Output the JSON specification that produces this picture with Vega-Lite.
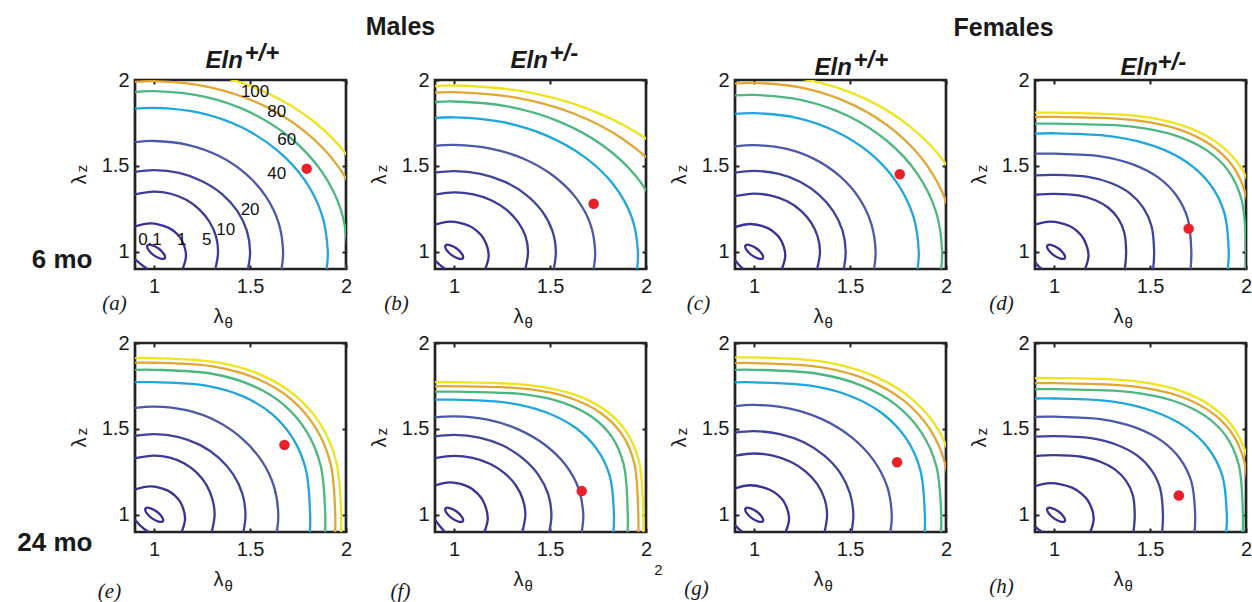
{
"$schema":"https://vega.github.io/schema/vega-lite/v6.json",
"padding":{"left":15,"top":12,"right":0,"bottom":0},
"background":"white",
"config":{
 "font":"Liberation Sans",
 "view":{"stroke":"#222","strokeWidth":2.7},
 "axis":{"grid":false,"domain":false,"labelFlush":false,"labelFont":"Liberation Sans","labelFontSize":20,"labelColor":"#1a1a1a","tickColor":"#222","tickWidth":2,"tickSize":-4,"titleFont":"Liberation Sans","titleFontSize":20,"titleFontWeight":"normal","titleColor":"#1a1a1a"},
 "axisX":{"labelPadding":11},
 "axisY":{"labelPadding":10}
},
"datasets":{
"dot":[{"p":"a","x":1.795,"y":1.484},{"p":"b","x":1.727,"y":1.28},{"p":"c","x":1.759,"y":1.451},{"p":"d","x":1.701,"y":1.135},{"p":"e","x":1.679,"y":1.407},{"p":"f","x":1.665,"y":1.138},{"p":"g","x":1.745,"y":1.306},{"p":"h","x":1.65,"y":1.112}],
"lab":[{"t":"0.1","x":0.978,"y":1.067},{"t":"1","x":1.143,"y":1.067},{"t":"5","x":1.274,"y":1.067},{"t":"10","x":1.373,"y":1.125},{"t":"20","x":1.5,"y":1.241},{"t":"40","x":1.639,"y":1.455},{"t":"60","x":1.691,"y":1.649},{"t":"80","x":1.639,"y":1.814},{"t":"100","x":1.526,"y":1.93}],
"el":[
{"p":"a","x":1.055,"y":0.963},{"p":"a","x":1.033,"y":0.961},{"p":"a","x":0.997,"y":0.981},{"p":"a","x":0.969,"y":1.013},{"p":"a","x":0.965,"y":1.037},{"p":"a","x":0.987,"y":1.039},{"p":"a","x":1.023,"y":1.019},{"p":"a","x":1.051,"y":0.987},
{"p":"b","x":1.045,"y":0.963},{"p":"b","x":1.023,"y":0.961},{"p":"b","x":0.987,"y":0.981},{"p":"b","x":0.959,"y":1.013},{"p":"b","x":0.955,"y":1.037},{"p":"b","x":0.977,"y":1.039},{"p":"b","x":1.013,"y":1.019},{"p":"b","x":1.041,"y":0.987},
{"p":"c","x":1.045,"y":0.963},{"p":"c","x":1.023,"y":0.961},{"p":"c","x":0.987,"y":0.981},{"p":"c","x":0.959,"y":1.013},{"p":"c","x":0.955,"y":1.037},{"p":"c","x":0.977,"y":1.039},{"p":"c","x":1.013,"y":1.019},{"p":"c","x":1.041,"y":0.987},
{"p":"d","x":1.055,"y":0.963},{"p":"d","x":1.033,"y":0.961},{"p":"d","x":0.997,"y":0.981},{"p":"d","x":0.969,"y":1.013},{"p":"d","x":0.965,"y":1.037},{"p":"d","x":0.987,"y":1.039},{"p":"d","x":1.023,"y":1.019},{"p":"d","x":1.051,"y":0.987},
{"p":"e","x":1.045,"y":0.963},{"p":"e","x":1.023,"y":0.961},{"p":"e","x":0.987,"y":0.981},{"p":"e","x":0.959,"y":1.013},{"p":"e","x":0.955,"y":1.037},{"p":"e","x":0.977,"y":1.039},{"p":"e","x":1.013,"y":1.019},{"p":"e","x":1.041,"y":0.987},
{"p":"f","x":1.045,"y":0.963},{"p":"f","x":1.023,"y":0.961},{"p":"f","x":0.987,"y":0.981},{"p":"f","x":0.959,"y":1.013},{"p":"f","x":0.955,"y":1.037},{"p":"f","x":0.977,"y":1.039},{"p":"f","x":1.013,"y":1.019},{"p":"f","x":1.041,"y":0.987},
{"p":"g","x":1.045,"y":0.963},{"p":"g","x":1.023,"y":0.961},{"p":"g","x":0.987,"y":0.981},{"p":"g","x":0.959,"y":1.013},{"p":"g","x":0.955,"y":1.037},{"p":"g","x":0.977,"y":1.039},{"p":"g","x":1.013,"y":1.019},{"p":"g","x":1.041,"y":0.987},
{"p":"h","x":1.055,"y":0.963},{"p":"h","x":1.033,"y":0.961},{"p":"h","x":0.997,"y":0.981},{"p":"h","x":0.969,"y":1.013},{"p":"h","x":0.965,"y":1.037},{"p":"h","x":0.987,"y":1.039},{"p":"h","x":1.023,"y":1.019},{"p":"h","x":1.051,"y":0.987}
],
"c":[
{"p":"a","l":"1","x":0.9,"y":1.148},{"p":"a","l":"1","x":0.98,"y":1.166},{"p":"a","l":"1","x":1.073,"y":1.141},{"p":"a","l":"1","x":1.112,"y":1.112},{"p":"a","l":"1","x":1.141,"y":1.073},{"p":"a","l":"1","x":1.166,"y":0.98},{"p":"a","l":"1","x":1.148,"y":0.9},
{"p":"a","l":"1c","x":0.9,"y":0.958},{"p":"a","l":"1c","x":0.93,"y":0.928},{"p":"a","l":"1c","x":0.965,"y":0.9},
{"p":"a","l":"5","x":0.9,"y":1.334},{"p":"a","l":"5","x":1,"y":1.35},{"p":"a","l":"5","x":1.086,"y":1.338},{"p":"a","l":"5","x":1.167,"y":1.303},{"p":"a","l":"5","x":1.235,"y":1.247},{"p":"a","l":"5","x":1.288,"y":1.175},{"p":"a","l":"5","x":1.322,"y":1.091},{"p":"a","l":"5","x":1.333,"y":1},{"p":"a","l":"5","x":1.319,"y":0.9},
{"p":"a","l":"10","x":0.9,"y":1.465},{"p":"a","l":"10","x":1,"y":1.475},{"p":"a","l":"10","x":1.13,"y":1.459},{"p":"a","l":"10","x":1.25,"y":1.411},{"p":"a","l":"10","x":1.354,"y":1.336},{"p":"a","l":"10","x":1.433,"y":1.238},{"p":"a","l":"10","x":1.483,"y":1.123},{"p":"a","l":"10","x":1.5,"y":1},{"p":"a","l":"10","x":1.489,"y":0.9},
{"p":"a","l":"20","x":0.9,"y":1.638},{"p":"a","l":"20","x":1,"y":1.645},{"p":"a","l":"20","x":1.174,"y":1.623},{"p":"a","l":"20","x":1.336,"y":1.559},{"p":"a","l":"20","x":1.475,"y":1.456},{"p":"a","l":"20","x":1.582,"y":1.323},{"p":"a","l":"20","x":1.649,"y":1.167},{"p":"a","l":"20","x":1.672,"y":1},{"p":"a","l":"20","x":1.664,"y":0.9},
{"p":"a","l":"40","x":0.9,"y":1.833},{"p":"a","l":"40","x":1,"y":1.838},{"p":"a","l":"40","x":1.234,"y":1.81},{"p":"a","l":"40","x":1.453,"y":1.726},{"p":"a","l":"40","x":1.64,"y":1.592},{"p":"a","l":"40","x":1.784,"y":1.419},{"p":"a","l":"40","x":1.874,"y":1.217},{"p":"a","l":"40","x":1.905,"y":1},{"p":"a","l":"40","x":1.899,"y":0.9},
{"p":"a","l":"60","x":0.9,"y":1.93},{"p":"a","l":"60","x":1,"y":1.935},{"p":"a","l":"60","x":1.261,"y":1.903},{"p":"a","l":"60","x":1.504,"y":1.81},{"p":"a","l":"60","x":1.713,"y":1.661},{"p":"a","l":"60","x":1.873,"y":1.468},{"p":"a","l":"60","x":1.974,"y":1.242},{"p":"a","l":"60","x":2.008,"y":1},{"p":"a","l":"60","x":2.002,"y":0.9},
{"p":"a","l":"80","x":0.9,"y":1.989},{"p":"a","l":"80","x":1,"y":1.993},{"p":"a","l":"80","x":1.287,"y":1.959},{"p":"a","l":"80","x":1.554,"y":1.86},{"p":"a","l":"80","x":1.783,"y":1.702},{"p":"a","l":"80","x":1.959,"y":1.497},{"p":"a","l":"80","x":2.069,"y":1.257},{"p":"a","l":"80","x":2.107,"y":1},
{"p":"a","l":"100","x":0.9,"y":2.062},{"p":"a","l":"100","x":1,"y":2.066},{"p":"a","l":"100","x":1.307,"y":2.03},{"p":"a","l":"100","x":1.592,"y":1.923},{"p":"a","l":"100","x":1.837,"y":1.754},{"p":"a","l":"100","x":2.025,"y":1.533},{"p":"a","l":"100","x":2.144,"y":1.276},{"p":"a","l":"100","x":2.184,"y":1},

{"p":"b","l":"1","x":0.9,"y":1.158},{"p":"b","l":"1","x":0.98,"y":1.176},{"p":"b","l":"1","x":1.08,"y":1.15},{"p":"b","l":"1","x":1.121,"y":1.119},{"p":"b","l":"1","x":1.153,"y":1.078},{"p":"b","l":"1","x":1.18,"y":0.98},{"p":"b","l":"1","x":1.162,"y":0.9},
{"p":"b","l":"1c","x":0.9,"y":0.95},{"p":"b","l":"1c","x":0.925,"y":0.924},{"p":"b","l":"1c","x":0.954,"y":0.9},
{"p":"b","l":"5","x":0.9,"y":1.333},{"p":"b","l":"5","x":1,"y":1.346},{"p":"b","l":"5","x":1.1,"y":1.334},{"p":"b","l":"5","x":1.193,"y":1.3},{"p":"b","l":"5","x":1.272,"y":1.245},{"p":"b","l":"5","x":1.333,"y":1.173},{"p":"b","l":"5","x":1.372,"y":1.09},{"p":"b","l":"5","x":1.385,"y":1},{"p":"b","l":"5","x":1.371,"y":0.9},
{"p":"b","l":"10","x":0.9,"y":1.461},{"p":"b","l":"10","x":1,"y":1.47},{"p":"b","l":"10","x":1.137,"y":1.454},{"p":"b","l":"10","x":1.265,"y":1.407},{"p":"b","l":"10","x":1.375,"y":1.332},{"p":"b","l":"10","x":1.459,"y":1.235},{"p":"b","l":"10","x":1.512,"y":1.122},{"p":"b","l":"10","x":1.53,"y":1},{"p":"b","l":"10","x":1.519,"y":0.9},
{"p":"b","l":"20","x":0.9,"y":1.616},{"p":"b","l":"20","x":1,"y":1.622},{"p":"b","l":"20","x":1.19,"y":1.601},{"p":"b","l":"20","x":1.368,"y":1.539},{"p":"b","l":"20","x":1.52,"y":1.44},{"p":"b","l":"20","x":1.637,"y":1.311},{"p":"b","l":"20","x":1.71,"y":1.161},{"p":"b","l":"20","x":1.735,"y":1},{"p":"b","l":"20","x":1.727,"y":0.9},
{"p":"b","l":"40","x":0.9,"y":1.779},{"p":"b","l":"40","x":1,"y":1.783},{"p":"b","l":"40","x":1.248,"y":1.756},{"p":"b","l":"40","x":1.479,"y":1.678},{"p":"b","l":"40","x":1.677,"y":1.554},{"p":"b","l":"40","x":1.83,"y":1.392},{"p":"b","l":"40","x":1.925,"y":1.203},{"p":"b","l":"40","x":1.958,"y":1},{"p":"b","l":"40","x":1.953,"y":0.9},
{"p":"b","l":"60","x":0.9,"y":1.872},{"p":"b","l":"60","x":1,"y":1.875},{"p":"b","l":"60","x":1.284,"y":1.845},{"p":"b","l":"60","x":1.548,"y":1.758},{"p":"b","l":"60","x":1.775,"y":1.619},{"p":"b","l":"60","x":1.949,"y":1.438},{"p":"b","l":"60","x":2.059,"y":1.227},{"p":"b","l":"60","x":2.096,"y":1},
{"p":"b","l":"80","x":0.9,"y":1.926},{"p":"b","l":"80","x":1,"y":1.929},{"p":"b","l":"80","x":1.322,"y":1.897},{"p":"b","l":"80","x":1.622,"y":1.805},{"p":"b","l":"80","x":1.879,"y":1.657},{"p":"b","l":"80","x":2.076,"y":1.465},{"p":"b","l":"80","x":2.201,"y":1.241},{"p":"b","l":"80","x":2.243,"y":1},
{"p":"b","l":"100","x":0.9,"y":1.965},{"p":"b","l":"100","x":1,"y":1.968},{"p":"b","l":"100","x":1.354,"y":1.935},{"p":"b","l":"100","x":1.683,"y":1.838},{"p":"b","l":"100","x":1.965,"y":1.684},{"p":"b","l":"100","x":2.182,"y":1.484},{"p":"b","l":"100","x":2.319,"y":1.251},{"p":"b","l":"100","x":2.365,"y":1},

{"p":"c","l":"1","x":0.9,"y":1.144},{"p":"c","l":"1","x":0.98,"y":1.162},{"p":"c","l":"1","x":1.071,"y":1.138},{"p":"c","l":"1","x":1.109,"y":1.109},{"p":"c","l":"1","x":1.138,"y":1.071},{"p":"c","l":"1","x":1.162,"y":0.98},{"p":"c","l":"1","x":1.144,"y":0.9},
{"p":"c","l":"1c","x":0.9,"y":0.953},{"p":"c","l":"1c","x":0.92,"y":0.925},{"p":"c","l":"1c","x":0.944,"y":0.9},
{"p":"c","l":"5","x":0.9,"y":1.324},{"p":"c","l":"5","x":1,"y":1.339},{"p":"c","l":"5","x":1.089,"y":1.327},{"p":"c","l":"5","x":1.172,"y":1.294},{"p":"c","l":"5","x":1.243,"y":1.24},{"p":"c","l":"5","x":1.297,"y":1.17},{"p":"c","l":"5","x":1.331,"y":1.088},{"p":"c","l":"5","x":1.343,"y":1},{"p":"c","l":"5","x":1.328,"y":0.9},
{"p":"c","l":"10","x":0.9,"y":1.461},{"p":"c","l":"10","x":1,"y":1.471},{"p":"c","l":"10","x":1.124,"y":1.455},{"p":"c","l":"10","x":1.239,"y":1.408},{"p":"c","l":"10","x":1.337,"y":1.333},{"p":"c","l":"10","x":1.413,"y":1.236},{"p":"c","l":"10","x":1.461,"y":1.122},{"p":"c","l":"10","x":1.477,"y":1},{"p":"c","l":"10","x":1.467,"y":0.9},
{"p":"c","l":"20","x":0.9,"y":1.613},{"p":"c","l":"20","x":1,"y":1.621},{"p":"c","l":"20","x":1.164,"y":1.6},{"p":"c","l":"20","x":1.317,"y":1.538},{"p":"c","l":"20","x":1.448,"y":1.439},{"p":"c","l":"20","x":1.548,"y":1.311},{"p":"c","l":"20","x":1.611,"y":1.161},{"p":"c","l":"20","x":1.633,"y":1},{"p":"c","l":"20","x":1.625,"y":0.9},
{"p":"c","l":"40","x":0.9,"y":1.803},{"p":"c","l":"40","x":1,"y":1.807},{"p":"c","l":"40","x":1.222,"y":1.78},{"p":"c","l":"40","x":1.429,"y":1.699},{"p":"c","l":"40","x":1.607,"y":1.571},{"p":"c","l":"40","x":1.743,"y":1.404},{"p":"c","l":"40","x":1.829,"y":1.209},{"p":"c","l":"40","x":1.858,"y":1},{"p":"c","l":"40","x":1.852,"y":0.9},
{"p":"c","l":"60","x":0.9,"y":1.91},{"p":"c","l":"60","x":1,"y":1.913},{"p":"c","l":"60","x":1.254,"y":1.882},{"p":"c","l":"60","x":1.49,"y":1.791},{"p":"c","l":"60","x":1.693,"y":1.645},{"p":"c","l":"60","x":1.849,"y":1.457},{"p":"c","l":"60","x":1.947,"y":1.236},{"p":"c","l":"60","x":1.98,"y":1},{"p":"c","l":"60","x":1.974,"y":0.9},
{"p":"c","l":"80","x":0.9,"y":1.979},{"p":"c","l":"80","x":1,"y":1.983},{"p":"c","l":"80","x":1.271,"y":1.95},{"p":"c","l":"80","x":1.524,"y":1.851},{"p":"c","l":"80","x":1.741,"y":1.695},{"p":"c","l":"80","x":1.908,"y":1.492},{"p":"c","l":"80","x":2.012,"y":1.255},{"p":"c","l":"80","x":2.048,"y":1},
{"p":"c","l":"100","x":0.9,"y":2.027},{"p":"c","l":"100","x":1,"y":2.031},{"p":"c","l":"100","x":1.298,"y":1.996},{"p":"c","l":"100","x":1.575,"y":1.893},{"p":"c","l":"100","x":1.813,"y":1.729},{"p":"c","l":"100","x":1.996,"y":1.516},{"p":"c","l":"100","x":2.111,"y":1.267},{"p":"c","l":"100","x":2.15,"y":1},

{"p":"d","l":"1","x":0.9,"y":1.158},{"p":"d","l":"1","x":0.98,"y":1.176},{"p":"d","l":"1","x":1.08,"y":1.15},{"p":"d","l":"1","x":1.121,"y":1.119},{"p":"d","l":"1","x":1.152,"y":1.078},{"p":"d","l":"1","x":1.179,"y":0.98},{"p":"d","l":"1","x":1.161,"y":0.9},
{"p":"d","l":"1c","x":0.9,"y":0.941},{"p":"d","l":"1c","x":0.915,"y":0.92},{"p":"d","l":"1c","x":0.936,"y":0.9},
{"p":"d","l":"5","x":0.9,"y":1.332},{"p":"d","l":"5","x":1,"y":1.337},{"p":"d","l":"5","x":1.127,"y":1.328},{"p":"d","l":"5","x":1.215,"y":1.3},{"p":"d","l":"5","x":1.284,"y":1.255},{"p":"d","l":"5","x":1.334,"y":1.193},{"p":"d","l":"5","x":1.365,"y":1.114},{"p":"d","l":"5","x":1.375,"y":1},{"p":"d","l":"5","x":1.368,"y":0.9},
{"p":"d","l":"10","x":0.9,"y":1.445},{"p":"d","l":"10","x":1,"y":1.448},{"p":"d","l":"10","x":1.177,"y":1.436},{"p":"d","l":"10","x":1.299,"y":1.399},{"p":"d","l":"10","x":1.395,"y":1.34},{"p":"d","l":"10","x":1.464,"y":1.257},{"p":"d","l":"10","x":1.507,"y":1.152},{"p":"d","l":"10","x":1.521,"y":1},{"p":"d","l":"10","x":1.516,"y":0.9},
{"p":"d","l":"20","x":0.9,"y":1.571},{"p":"d","l":"20","x":1,"y":1.571},{"p":"d","l":"20","x":1.242,"y":1.556},{"p":"d","l":"20","x":1.41,"y":1.509},{"p":"d","l":"20","x":1.542,"y":1.433},{"p":"d","l":"20","x":1.637,"y":1.328},{"p":"d","l":"20","x":1.696,"y":1.194},{"p":"d","l":"20","x":1.715,"y":1},{"p":"d","l":"20","x":1.711,"y":0.9},
{"p":"d","l":"40","x":0.9,"y":1.688},{"p":"d","l":"40","x":1,"y":1.69},{"p":"d","l":"40","x":1.308,"y":1.671},{"p":"d","l":"40","x":1.522,"y":1.615},{"p":"d","l":"40","x":1.69,"y":1.523},{"p":"d","l":"40","x":1.811,"y":1.396},{"p":"d","l":"40","x":1.885,"y":1.234},{"p":"d","l":"40","x":1.91,"y":1},{"p":"d","l":"40","x":1.905,"y":0.9},
{"p":"d","l":"60","x":0.9,"y":1.746},{"p":"d","l":"60","x":1,"y":1.746},{"p":"d","l":"60","x":1.406,"y":1.729},{"p":"d","l":"60","x":1.63,"y":1.678},{"p":"d","l":"60","x":1.794,"y":1.592},{"p":"d","l":"60","x":1.909,"y":1.47},{"p":"d","l":"60","x":1.977,"y":1.303},{"p":"d","l":"60","x":2.001,"y":1},{"p":"d","l":"60","x":2,"y":0.9},
{"p":"d","l":"80","x":0.9,"y":1.785},{"p":"d","l":"80","x":1,"y":1.785},{"p":"d","l":"80","x":1.417,"y":1.767},{"p":"d","l":"80","x":1.646,"y":1.714},{"p":"d","l":"80","x":1.815,"y":1.623},{"p":"d","l":"80","x":1.933,"y":1.495},{"p":"d","l":"80","x":2.002,"y":1.319},{"p":"d","l":"80","x":2.026,"y":1},
{"p":"d","l":"100","x":0.9,"y":1.81},{"p":"d","l":"100","x":1,"y":1.81},{"p":"d","l":"100","x":1.43,"y":1.791},{"p":"d","l":"100","x":1.667,"y":1.736},{"p":"d","l":"100","x":1.84,"y":1.643},{"p":"d","l":"100","x":1.962,"y":1.51},{"p":"d","l":"100","x":2.034,"y":1.329},{"p":"d","l":"100","x":2.058,"y":1},

{"p":"e","l":"1","x":0.9,"y":1.148},{"p":"e","l":"1","x":0.98,"y":1.166},{"p":"e","l":"1","x":1.071,"y":1.141},{"p":"e","l":"1","x":1.108,"y":1.112},{"p":"e","l":"1","x":1.137,"y":1.073},{"p":"e","l":"1","x":1.161,"y":0.98},{"p":"e","l":"1","x":1.143,"y":0.9},
{"p":"e","l":"1c","x":0.9,"y":0.972},{"p":"e","l":"1c","x":0.935,"y":0.93},{"p":"e","l":"1c","x":0.97,"y":0.9},
{"p":"e","l":"5","x":0.9,"y":1.329},{"p":"e","l":"5","x":1,"y":1.345},{"p":"e","l":"5","x":1.082,"y":1.333},{"p":"e","l":"5","x":1.158,"y":1.299},{"p":"e","l":"5","x":1.223,"y":1.244},{"p":"e","l":"5","x":1.273,"y":1.173},{"p":"e","l":"5","x":1.304,"y":1.089},{"p":"e","l":"5","x":1.315,"y":1},{"p":"e","l":"5","x":1.3,"y":0.9},
{"p":"e","l":"10","x":0.9,"y":1.46},{"p":"e","l":"10","x":1,"y":1.47},{"p":"e","l":"10","x":1.123,"y":1.454},{"p":"e","l":"10","x":1.238,"y":1.407},{"p":"e","l":"10","x":1.337,"y":1.332},{"p":"e","l":"10","x":1.412,"y":1.235},{"p":"e","l":"10","x":1.46,"y":1.122},{"p":"e","l":"10","x":1.476,"y":1},{"p":"e","l":"10","x":1.465,"y":0.9},
{"p":"e","l":"20","x":0.9,"y":1.622},{"p":"e","l":"20","x":1,"y":1.63},{"p":"e","l":"20","x":1.168,"y":1.609},{"p":"e","l":"20","x":1.324,"y":1.546},{"p":"e","l":"20","x":1.457,"y":1.445},{"p":"e","l":"20","x":1.56,"y":1.315},{"p":"e","l":"20","x":1.625,"y":1.163},{"p":"e","l":"20","x":1.647,"y":1},{"p":"e","l":"20","x":1.639,"y":0.9},
{"p":"e","l":"40","x":0.9,"y":1.772},{"p":"e","l":"40","x":1,"y":1.772},{"p":"e","l":"40","x":1.276,"y":1.751},{"p":"e","l":"40","x":1.467,"y":1.688},{"p":"e","l":"40","x":1.616,"y":1.585},{"p":"e","l":"40","x":1.724,"y":1.443},{"p":"e","l":"40","x":1.791,"y":1.262},{"p":"e","l":"40","x":1.813,"y":1},{"p":"e","l":"40","x":1.812,"y":0.9},
{"p":"e","l":"60","x":0.9,"y":1.844},{"p":"e","l":"60","x":1,"y":1.844},{"p":"e","l":"60","x":1.302,"y":1.821},{"p":"e","l":"60","x":1.512,"y":1.752},{"p":"e","l":"60","x":1.676,"y":1.64},{"p":"e","l":"60","x":1.795,"y":1.484},{"p":"e","l":"60","x":1.868,"y":1.286},{"p":"e","l":"60","x":1.892,"y":1},{"p":"e","l":"60","x":1.891,"y":0.9},
{"p":"e","l":"80","x":0.9,"y":1.885},{"p":"e","l":"80","x":1,"y":1.885},{"p":"e","l":"80","x":1.32,"y":1.861},{"p":"e","l":"80","x":1.542,"y":1.789},{"p":"e","l":"80","x":1.716,"y":1.671},{"p":"e","l":"80","x":1.841,"y":1.508},{"p":"e","l":"80","x":1.919,"y":1.3},{"p":"e","l":"80","x":1.944,"y":1},{"p":"e","l":"80","x":1.943,"y":0.9},
{"p":"e","l":"100","x":0.9,"y":1.912},{"p":"e","l":"100","x":1,"y":1.912},{"p":"e","l":"100","x":1.331,"y":1.887},{"p":"e","l":"100","x":1.56,"y":1.813},{"p":"e","l":"100","x":1.739,"y":1.691},{"p":"e","l":"100","x":1.869,"y":1.523},{"p":"e","l":"100","x":1.949,"y":1.309},{"p":"e","l":"100","x":1.975,"y":1},{"p":"e","l":"100","x":1.974,"y":0.9},

{"p":"f","l":"1","x":0.9,"y":1.171},{"p":"f","l":"1","x":0.98,"y":1.189},{"p":"f","l":"1","x":1.078,"y":1.161},{"p":"f","l":"1","x":1.118,"y":1.128},{"p":"f","l":"1","x":1.149,"y":1.085},{"p":"f","l":"1","x":1.175,"y":0.98},{"p":"f","l":"1","x":1.157,"y":0.9},
{"p":"f","l":"1c","x":0.9,"y":0.972},{"p":"f","l":"1c","x":0.925,"y":0.935},{"p":"f","l":"1c","x":0.952,"y":0.9},
{"p":"f","l":"5","x":0.9,"y":1.33},{"p":"f","l":"5","x":1,"y":1.343},{"p":"f","l":"5","x":1.096,"y":1.331},{"p":"f","l":"5","x":1.186,"y":1.297},{"p":"f","l":"5","x":1.262,"y":1.243},{"p":"f","l":"5","x":1.321,"y":1.172},{"p":"f","l":"5","x":1.358,"y":1.089},{"p":"f","l":"5","x":1.371,"y":1},{"p":"f","l":"5","x":1.355,"y":0.9},
{"p":"f","l":"10","x":0.9,"y":1.456},{"p":"f","l":"10","x":1,"y":1.465},{"p":"f","l":"10","x":1.131,"y":1.449},{"p":"f","l":"10","x":1.254,"y":1.403},{"p":"f","l":"10","x":1.358,"y":1.329},{"p":"f","l":"10","x":1.439,"y":1.233},{"p":"f","l":"10","x":1.49,"y":1.12},{"p":"f","l":"10","x":1.507,"y":1},{"p":"f","l":"10","x":1.496,"y":0.9},
{"p":"f","l":"20","x":0.9,"y":1.567},{"p":"f","l":"20","x":1,"y":1.573},{"p":"f","l":"20","x":1.174,"y":1.554},{"p":"f","l":"20","x":1.337,"y":1.496},{"p":"f","l":"20","x":1.476,"y":1.405},{"p":"f","l":"20","x":1.583,"y":1.287},{"p":"f","l":"20","x":1.65,"y":1.148},{"p":"f","l":"20","x":1.673,"y":1},{"p":"f","l":"20","x":1.665,"y":0.9},
{"p":"f","l":"40","x":0.9,"y":1.67},{"p":"f","l":"40","x":1,"y":1.67},{"p":"f","l":"40","x":1.282,"y":1.652},{"p":"f","l":"40","x":1.478,"y":1.597},{"p":"f","l":"40","x":1.631,"y":1.508},{"p":"f","l":"40","x":1.742,"y":1.385},{"p":"f","l":"40","x":1.811,"y":1.227},{"p":"f","l":"40","x":1.833,"y":1},{"p":"f","l":"40","x":1.83,"y":0.9},
{"p":"f","l":"60","x":0.9,"y":1.717},{"p":"f","l":"60","x":1,"y":1.717},{"p":"f","l":"60","x":1.367,"y":1.701},{"p":"f","l":"60","x":1.57,"y":1.652},{"p":"f","l":"60","x":1.719,"y":1.569},{"p":"f","l":"60","x":1.823,"y":1.452},{"p":"f","l":"60","x":1.884,"y":1.291},{"p":"f","l":"60","x":1.905,"y":1},{"p":"f","l":"60","x":1.904,"y":0.9},
{"p":"f","l":"80","x":0.9,"y":1.748},{"p":"f","l":"80","x":1,"y":1.748},{"p":"f","l":"80","x":1.39,"y":1.731},{"p":"f","l":"80","x":1.605,"y":1.68},{"p":"f","l":"80","x":1.762,"y":1.594},{"p":"f","l":"80","x":1.873,"y":1.471},{"p":"f","l":"80","x":1.938,"y":1.304},{"p":"f","l":"80","x":1.96,"y":1},{"p":"f","l":"80","x":1.96,"y":0.9},
{"p":"f","l":"100","x":0.9,"y":1.772},{"p":"f","l":"100","x":1,"y":1.772},{"p":"f","l":"100","x":1.4,"y":1.754},{"p":"f","l":"100","x":1.621,"y":1.702},{"p":"f","l":"100","x":1.783,"y":1.613},{"p":"f","l":"100","x":1.896,"y":1.486},{"p":"f","l":"100","x":1.963,"y":1.313},{"p":"f","l":"100","x":1.986,"y":1},{"p":"f","l":"100","x":1.986,"y":0.9},

{"p":"g","l":"1","x":0.9,"y":1.154},{"p":"g","l":"1","x":0.98,"y":1.172},{"p":"g","l":"1","x":1.081,"y":1.146},{"p":"g","l":"1","x":1.123,"y":1.116},{"p":"g","l":"1","x":1.155,"y":1.076},{"p":"g","l":"1","x":1.182,"y":0.98},{"p":"g","l":"1","x":1.164,"y":0.9},
{"p":"g","l":"1c","x":0.9,"y":0.94},{"p":"g","l":"1c","x":0.918,"y":0.92},{"p":"g","l":"1c","x":0.94,"y":0.9},
{"p":"g","l":"5","x":0.9,"y":1.345},{"p":"g","l":"5","x":1,"y":1.357},{"p":"g","l":"5","x":1.098,"y":1.345},{"p":"g","l":"5","x":1.19,"y":1.309},{"p":"g","l":"5","x":1.269,"y":1.252},{"p":"g","l":"5","x":1.329,"y":1.179},{"p":"g","l":"5","x":1.367,"y":1.092},{"p":"g","l":"5","x":1.38,"y":1},{"p":"g","l":"5","x":1.367,"y":0.9},
{"p":"g","l":"10","x":0.9,"y":1.478},{"p":"g","l":"10","x":1,"y":1.487},{"p":"g","l":"10","x":1.134,"y":1.47},{"p":"g","l":"10","x":1.259,"y":1.422},{"p":"g","l":"10","x":1.366,"y":1.344},{"p":"g","l":"10","x":1.448,"y":1.244},{"p":"g","l":"10","x":1.499,"y":1.126},{"p":"g","l":"10","x":1.517,"y":1},{"p":"g","l":"10","x":1.507,"y":0.9},
{"p":"g","l":"20","x":0.9,"y":1.633},{"p":"g","l":"20","x":1,"y":1.64},{"p":"g","l":"20","x":1.186,"y":1.618},{"p":"g","l":"20","x":1.359,"y":1.554},{"p":"g","l":"20","x":1.507,"y":1.452},{"p":"g","l":"20","x":1.621,"y":1.32},{"p":"g","l":"20","x":1.693,"y":1.166},{"p":"g","l":"20","x":1.717,"y":1},{"p":"g","l":"20","x":1.71,"y":0.9},
{"p":"g","l":"40","x":0.9,"y":1.771},{"p":"g","l":"40","x":1,"y":1.771},{"p":"g","l":"40","x":1.302,"y":1.75},{"p":"g","l":"40","x":1.511,"y":1.687},{"p":"g","l":"40","x":1.675,"y":1.584},{"p":"g","l":"40","x":1.793,"y":1.443},{"p":"g","l":"40","x":1.866,"y":1.261},{"p":"g","l":"40","x":1.89,"y":1},{"p":"g","l":"40","x":1.889,"y":0.9},
{"p":"g","l":"60","x":0.9,"y":1.844},{"p":"g","l":"60","x":1,"y":1.844},{"p":"g","l":"60","x":1.331,"y":1.821},{"p":"g","l":"60","x":1.56,"y":1.752},{"p":"g","l":"60","x":1.739,"y":1.64},{"p":"g","l":"60","x":1.869,"y":1.484},{"p":"g","l":"60","x":1.949,"y":1.286},{"p":"g","l":"60","x":1.975,"y":1},{"p":"g","l":"60","x":1.974,"y":0.9},
{"p":"g","l":"80","x":0.9,"y":1.883},{"p":"g","l":"80","x":1,"y":1.883},{"p":"g","l":"80","x":1.347,"y":1.859},{"p":"g","l":"80","x":1.587,"y":1.787},{"p":"g","l":"80","x":1.775,"y":1.669},{"p":"g","l":"80","x":1.911,"y":1.507},{"p":"g","l":"80","x":1.995,"y":1.299},{"p":"g","l":"80","x":2.023,"y":1},
{"p":"g","l":"100","x":0.9,"y":1.916},{"p":"g","l":"100","x":1,"y":1.916},{"p":"g","l":"100","x":1.358,"y":1.891},{"p":"g","l":"100","x":1.607,"y":1.816},{"p":"g","l":"100","x":1.801,"y":1.694},{"p":"g","l":"100","x":1.942,"y":1.526},{"p":"g","l":"100","x":2.028,"y":1.311},{"p":"g","l":"100","x":2.057,"y":1},

{"p":"h","l":"1","x":0.9,"y":1.167},{"p":"h","l":"1","x":0.98,"y":1.185},{"p":"h","l":"1","x":1.093,"y":1.158},{"p":"h","l":"1","x":1.14,"y":1.125},{"p":"h","l":"1","x":1.176,"y":1.083},{"p":"h","l":"1","x":1.206,"y":0.98},{"p":"h","l":"1","x":1.188,"y":0.9},
{"p":"h","l":"1c","x":0.9,"y":0.933},{"p":"h","l":"1c","x":0.918,"y":0.915},{"p":"h","l":"1c","x":0.938,"y":0.9},
{"p":"h","l":"5","x":0.9,"y":1.342},{"p":"h","l":"5","x":1,"y":1.347},{"p":"h","l":"5","x":1.142,"y":1.338},{"p":"h","l":"5","x":1.241,"y":1.309},{"p":"h","l":"5","x":1.318,"y":1.263},{"p":"h","l":"5","x":1.374,"y":1.199},{"p":"h","l":"5","x":1.409,"y":1.118},{"p":"h","l":"5","x":1.42,"y":1},{"p":"h","l":"5","x":1.413,"y":0.9},
{"p":"h","l":"10","x":0.9,"y":1.455},{"p":"h","l":"10","x":1,"y":1.458},{"p":"h","l":"10","x":1.192,"y":1.446},{"p":"h","l":"10","x":1.325,"y":1.408},{"p":"h","l":"10","x":1.43,"y":1.347},{"p":"h","l":"10","x":1.505,"y":1.263},{"p":"h","l":"10","x":1.552,"y":1.155},{"p":"h","l":"10","x":1.567,"y":1},{"p":"h","l":"10","x":1.563,"y":0.9},
{"p":"h","l":"20","x":0.9,"y":1.57},{"p":"h","l":"20","x":1,"y":1.571},{"p":"h","l":"20","x":1.249,"y":1.556},{"p":"h","l":"20","x":1.422,"y":1.509},{"p":"h","l":"20","x":1.557,"y":1.433},{"p":"h","l":"20","x":1.655,"y":1.328},{"p":"h","l":"20","x":1.715,"y":1.194},{"p":"h","l":"20","x":1.735,"y":1},{"p":"h","l":"20","x":1.732,"y":0.9},
{"p":"h","l":"40","x":0.9,"y":1.677},{"p":"h","l":"40","x":1,"y":1.677},{"p":"h","l":"40","x":1.305,"y":1.659},{"p":"h","l":"40","x":1.517,"y":1.603},{"p":"h","l":"40","x":1.682,"y":1.513},{"p":"h","l":"40","x":1.802,"y":1.389},{"p":"h","l":"40","x":1.876,"y":1.23},{"p":"h","l":"40","x":1.9,"y":1},{"p":"h","l":"40","x":1.897,"y":0.9},
{"p":"h","l":"60","x":0.9,"y":1.731},{"p":"h","l":"60","x":1,"y":1.731},{"p":"h","l":"60","x":1.4,"y":1.714},{"p":"h","l":"60","x":1.62,"y":1.664},{"p":"h","l":"60","x":1.781,"y":1.58},{"p":"h","l":"60","x":1.894,"y":1.461},{"p":"h","l":"60","x":1.961,"y":1.297},{"p":"h","l":"60","x":1.984,"y":1},{"p":"h","l":"60","x":1.983,"y":0.9},
{"p":"h","l":"80","x":0.9,"y":1.766},{"p":"h","l":"80","x":1,"y":1.766},{"p":"h","l":"80","x":1.412,"y":1.748},{"p":"h","l":"80","x":1.639,"y":1.696},{"p":"h","l":"80","x":1.805,"y":1.608},{"p":"h","l":"80","x":1.922,"y":1.483},{"p":"h","l":"80","x":1.991,"y":1.311},{"p":"h","l":"80","x":2.014,"y":1},
{"p":"h","l":"100","x":0.9,"y":1.796},{"p":"h","l":"100","x":1,"y":1.796},{"p":"h","l":"100","x":1.419,"y":1.778},{"p":"h","l":"100","x":1.651,"y":1.724},{"p":"h","l":"100","x":1.82,"y":1.632},{"p":"h","l":"100","x":1.939,"y":1.501},{"p":"h","l":"100","x":2.009,"y":1.323},{"p":"h","l":"100","x":2.033,"y":1}
]
},
"concat":[
{"width":211,"height":189,"resolve":{"axis":{"x":"independent","y":"independent"}},"layer":[
 {"data":{"name":"c"},"transform":[{"filter":"datum.p==='a'"}],"mark":{"type":"line","interpolate":"catmull-rom","clip":true,"strokeWidth":2.3},"encoding":{"x":{"field":"x","type":"quantitative","scale":{"domain":[0.9,2],"nice":false,"zero":false},"axis":{"orient":"bottom","values":[1,1.5,2],"format":"~g","title":"λ","titleX":83,"titleY":53,"titleAlign":"center","titleBaseline":"alphabetic"}},"y":{"field":"y","type":"quantitative","scale":{"domain":[0.9,2],"nice":false,"zero":false},"axis":{"orient":"left","values":[1,1.5,2],"format":"~g","title":"λ","titleX":-56,"titleY":99,"titleAngle":-90,"titleAlign":"center","titleBaseline":"middle"}},"color":{"field":"l","type":"nominal","scale":{"domain":["1","1c","5","10","20","40","60","80","100"],"range":["#3a3196","#3a3196","#3b3a99","#3e449c","#4c58a8","#1ea6df","#4cb77f","#e2a633","#efe31c"]},"legend":null},"order":{"value":null}}},
 {"data":{"name":"el"},"transform":[{"filter":"datum.p==='a'"}],"mark":{"type":"line","interpolate":"cardinal-closed","color":"#3a2e98","strokeWidth":2.3},"encoding":{"x":{"field":"x","type":"quantitative","axis":null},"y":{"field":"y","type":"quantitative","axis":null},"order":{"value":null}}},
 {"data":{"name":"dot"},"transform":[{"filter":"datum.p==='a'"}],"mark":{"type":"circle","size":110,"color":"#e8202a","opacity":1},"encoding":{"x":{"field":"x","type":"quantitative","axis":{"orient":"top","values":[1,1.5,2],"labels":false,"title":"+/+","titleX":109,"titleY":-20,"titleAlign":"left","titleBaseline":"alphabetic","titleFontSize":24,"titleFontWeight":"bold","titleFontStyle":"italic"}},"y":{"field":"y","type":"quantitative","axis":{"orient":"right","values":[1,1.5,2],"labels":false,"title":"Eln","titleAngle":0,"titleX":-141,"titleY":-13,"titleAlign":"left","titleBaseline":"alphabetic","titleFontSize":24,"titleFontWeight":"bold","titleFontStyle":"italic"}}}},
 {"data":{"name":"dot"},"transform":[{"filter":"datum.p==='a'"}],"mark":{"type":"circle","opacity":0},"encoding":{"x":{"field":"x","type":"quantitative","axis":{"orient":"bottom","labels":false,"ticks":false,"title":"(a)","titleX":-21,"titleY":40,"titleAlign":"center","titleBaseline":"alphabetic","titleFont":"Liberation Serif","titleFontStyle":"italic","titleFontSize":21}},"y":{"field":"y","type":"quantitative","axis":{"orient":"left","labels":false,"ticks":false,"title":"6 mo","titleAngle":0,"titleX":-43,"titleY":179,"titleAlign":"right","titleBaseline":"middle","titleFontSize":26,"titleFontWeight":"bold"}}}},
 {"data":{"name":"dot"},"transform":[{"filter":"datum.p==='a'"}],"mark":{"type":"circle","opacity":0},"encoding":{"x":{"field":"x","type":"quantitative","axis":{"orient":"bottom","labels":false,"ticks":false,"title":"θ","titleX":89,"titleY":58,"titleAlign":"left","titleBaseline":"alphabetic","titleFontSize":15}},"y":{"field":"y","type":"quantitative","axis":{"orient":"left","labels":false,"ticks":false,"title":"z","titleX":-54,"titleY":88,"titleAngle":-90,"titleAlign":"center","titleBaseline":"middle","titleFontSize":15}}}},
 {"data":{"name":"lab"},"mark":{"type":"text","fontSize":17,"color":"#111"},"encoding":{"x":{"field":"x","type":"quantitative","axis":null},"y":{"field":"y","type":"quantitative","axis":null},"text":{"field":"t"}}}
]},
{"width":211,"height":189,"resolve":{"axis":{"x":"independent","y":"independent"}},"layer":[
 {"data":{"name":"c"},"transform":[{"filter":"datum.p==='b'"}],"mark":{"type":"line","interpolate":"catmull-rom","clip":true,"strokeWidth":2.3},"encoding":{"x":{"field":"x","type":"quantitative","scale":{"domain":[0.9,2],"nice":false,"zero":false},"axis":{"orient":"bottom","values":[1,1.5,2],"format":"~g","title":"λ","titleX":83,"titleY":53,"titleAlign":"center","titleBaseline":"alphabetic"}},"y":{"field":"y","type":"quantitative","scale":{"domain":[0.9,2],"nice":false,"zero":false},"axis":{"orient":"left","values":[1,1.5,2],"format":"~g","title":"λ","titleX":-56,"titleY":99,"titleAngle":-90,"titleAlign":"center","titleBaseline":"middle"}},"color":{"field":"l","type":"nominal","scale":{"domain":["1","1c","5","10","20","40","60","80","100"],"range":["#3a3196","#3a3196","#3b3a99","#3e449c","#4c58a8","#1ea6df","#4cb77f","#e2a633","#efe31c"]},"legend":null},"order":{"value":null}}},
 {"data":{"name":"el"},"transform":[{"filter":"datum.p==='b'"}],"mark":{"type":"line","interpolate":"cardinal-closed","color":"#3a2e98","strokeWidth":2.3},"encoding":{"x":{"field":"x","type":"quantitative","axis":null},"y":{"field":"y","type":"quantitative","axis":null},"order":{"value":null}}},
 {"data":{"name":"dot"},"transform":[{"filter":"datum.p==='b'"}],"mark":{"type":"circle","size":110,"color":"#e8202a","opacity":1},"encoding":{"x":{"field":"x","type":"quantitative","axis":{"orient":"top","values":[1,1.5,2],"labels":false,"title":"+/-","titleX":114,"titleY":-20,"titleAlign":"left","titleBaseline":"alphabetic","titleFontSize":24,"titleFontWeight":"bold","titleFontStyle":"italic"}},"y":{"field":"y","type":"quantitative","axis":{"orient":"right","values":[1,1.5,2],"labels":false,"title":"Eln","titleAngle":0,"titleX":-136,"titleY":-13,"titleAlign":"left","titleBaseline":"alphabetic","titleFontSize":24,"titleFontWeight":"bold","titleFontStyle":"italic"}}}},
 {"data":{"name":"dot"},"transform":[{"filter":"datum.p==='b'"}],"mark":{"type":"circle","opacity":0},"encoding":{"x":{"field":"x","type":"quantitative","axis":{"orient":"bottom","labels":false,"ticks":false,"title":"(b)","titleX":-39,"titleY":40,"titleAlign":"center","titleBaseline":"alphabetic","titleFont":"Liberation Serif","titleFontStyle":"italic","titleFontSize":21}},"y":{"field":"y","type":"quantitative","axis":{"orient":"left","labels":false,"ticks":false,"title":"Males","titleAngle":0,"titleX":-35,"titleY":-54,"titleAlign":"center","titleBaseline":"middle","titleFontSize":25,"titleFontWeight":"bold"}}}},
 {"data":{"name":"dot"},"transform":[{"filter":"datum.p==='b'"}],"mark":{"type":"circle","opacity":0},"encoding":{"x":{"field":"x","type":"quantitative","axis":{"orient":"bottom","labels":false,"ticks":false,"title":"θ","titleX":89,"titleY":58,"titleAlign":"left","titleBaseline":"alphabetic","titleFontSize":15}},"y":{"field":"y","type":"quantitative","axis":{"orient":"left","labels":false,"ticks":false,"title":"z","titleX":-54,"titleY":88,"titleAngle":-90,"titleAlign":"center","titleBaseline":"middle","titleFontSize":15}}}}
]},
{"width":211,"height":189,"resolve":{"axis":{"x":"independent","y":"independent"}},"layer":[
 {"data":{"name":"c"},"transform":[{"filter":"datum.p==='c'"}],"mark":{"type":"line","interpolate":"catmull-rom","clip":true,"strokeWidth":2.3},"encoding":{"x":{"field":"x","type":"quantitative","scale":{"domain":[0.9,2],"nice":false,"zero":false},"axis":{"orient":"bottom","values":[1,1.5,2],"format":"~g","title":"λ","titleX":83,"titleY":53,"titleAlign":"center","titleBaseline":"alphabetic"}},"y":{"field":"y","type":"quantitative","scale":{"domain":[0.9,2],"nice":false,"zero":false},"axis":{"orient":"left","values":[1,1.5,2],"format":"~g","title":"λ","titleX":-56,"titleY":99,"titleAngle":-90,"titleAlign":"center","titleBaseline":"middle"}},"color":{"field":"l","type":"nominal","scale":{"domain":["1","1c","5","10","20","40","60","80","100"],"range":["#3a3196","#3a3196","#3b3a99","#3e449c","#4c58a8","#1ea6df","#4cb77f","#e2a633","#efe31c"]},"legend":null},"order":{"value":null}}},
 {"data":{"name":"el"},"transform":[{"filter":"datum.p==='c'"}],"mark":{"type":"line","interpolate":"cardinal-closed","color":"#3a2e98","strokeWidth":2.3},"encoding":{"x":{"field":"x","type":"quantitative","axis":null},"y":{"field":"y","type":"quantitative","axis":null},"order":{"value":null}}},
 {"data":{"name":"dot"},"transform":[{"filter":"datum.p==='c'"}],"mark":{"type":"circle","size":110,"color":"#e8202a","opacity":1},"encoding":{"x":{"field":"x","type":"quantitative","axis":{"orient":"top","values":[1,1.5,2],"labels":false,"title":"+/+","titleX":118,"titleY":-13,"titleAlign":"left","titleBaseline":"alphabetic","titleFontSize":24,"titleFontWeight":"bold","titleFontStyle":"italic"}},"y":{"field":"y","type":"quantitative","axis":{"orient":"right","values":[1,1.5,2],"labels":false,"title":"Eln","titleAngle":0,"titleX":-132,"titleY":-6,"titleAlign":"left","titleBaseline":"alphabetic","titleFontSize":24,"titleFontWeight":"bold","titleFontStyle":"italic"}}}},
 {"data":{"name":"dot"},"transform":[{"filter":"datum.p==='c'"}],"mark":{"type":"circle","opacity":0},"encoding":{"x":{"field":"x","type":"quantitative","axis":{"orient":"bottom","labels":false,"ticks":false,"title":"(c)","titleX":-37,"titleY":40,"titleAlign":"center","titleBaseline":"alphabetic","titleFont":"Liberation Serif","titleFontStyle":"italic","titleFontSize":21}},"y":{"field":"y","type":"quantitative","axis":null}}},
 {"data":{"name":"dot"},"transform":[{"filter":"datum.p==='c'"}],"mark":{"type":"circle","opacity":0},"encoding":{"x":{"field":"x","type":"quantitative","axis":{"orient":"bottom","labels":false,"ticks":false,"title":"θ","titleX":89,"titleY":58,"titleAlign":"left","titleBaseline":"alphabetic","titleFontSize":15}},"y":{"field":"y","type":"quantitative","axis":{"orient":"left","labels":false,"ticks":false,"title":"z","titleX":-54,"titleY":88,"titleAngle":-90,"titleAlign":"center","titleBaseline":"middle","titleFontSize":15}}}}
]},
{"width":211,"height":189,"resolve":{"axis":{"x":"independent","y":"independent"}},"layer":[
 {"data":{"name":"c"},"transform":[{"filter":"datum.p==='d'"}],"mark":{"type":"line","interpolate":"catmull-rom","clip":true,"strokeWidth":2.3},"encoding":{"x":{"field":"x","type":"quantitative","scale":{"domain":[0.9,2],"nice":false,"zero":false},"axis":{"orient":"bottom","values":[1,1.5,2],"format":"~g","title":"λ","titleX":83,"titleY":53,"titleAlign":"center","titleBaseline":"alphabetic"}},"y":{"field":"y","type":"quantitative","scale":{"domain":[0.9,2],"nice":false,"zero":false},"axis":{"orient":"left","values":[1,1.5,2],"format":"~g","title":"λ","titleX":-56,"titleY":99,"titleAngle":-90,"titleAlign":"center","titleBaseline":"middle"}},"color":{"field":"l","type":"nominal","scale":{"domain":["1","1c","5","10","20","40","60","80","100"],"range":["#3a3196","#3a3196","#3b3a99","#3e449c","#4c58a8","#1ea6df","#4cb77f","#e2a633","#efe31c"]},"legend":null},"order":{"value":null}}},
 {"data":{"name":"el"},"transform":[{"filter":"datum.p==='d'"}],"mark":{"type":"line","interpolate":"cardinal-closed","color":"#3a2e98","strokeWidth":2.3},"encoding":{"x":{"field":"x","type":"quantitative","axis":null},"y":{"field":"y","type":"quantitative","axis":null},"order":{"value":null}}},
 {"data":{"name":"dot"},"transform":[{"filter":"datum.p==='d'"}],"mark":{"type":"circle","size":110,"color":"#e8202a","opacity":1},"encoding":{"x":{"field":"x","type":"quantitative","axis":{"orient":"top","values":[1,1.5,2],"labels":false,"title":"+/-","titleX":122,"titleY":-11,"titleAlign":"left","titleBaseline":"alphabetic","titleFontSize":24,"titleFontWeight":"bold","titleFontStyle":"italic"}},"y":{"field":"y","type":"quantitative","axis":{"orient":"right","values":[1,1.5,2],"labels":false,"title":"Eln","titleAngle":0,"titleX":-126,"titleY":-6,"titleAlign":"left","titleBaseline":"alphabetic","titleFontSize":24,"titleFontWeight":"bold","titleFontStyle":"italic"}}}},
 {"data":{"name":"dot"},"transform":[{"filter":"datum.p==='d'"}],"mark":{"type":"circle","opacity":0},"encoding":{"x":{"field":"x","type":"quantitative","axis":{"orient":"bottom","labels":false,"ticks":false,"title":"(d)","titleX":-34,"titleY":40,"titleAlign":"center","titleBaseline":"alphabetic","titleFont":"Liberation Serif","titleFontStyle":"italic","titleFontSize":21}},"y":{"field":"y","type":"quantitative","axis":{"orient":"left","labels":false,"ticks":false,"title":"Females","titleAngle":0,"titleX":-32,"titleY":-53,"titleAlign":"center","titleBaseline":"middle","titleFontSize":25,"titleFontWeight":"bold"}}}},
 {"data":{"name":"dot"},"transform":[{"filter":"datum.p==='d'"}],"mark":{"type":"circle","opacity":0},"encoding":{"x":{"field":"x","type":"quantitative","axis":{"orient":"bottom","labels":false,"ticks":false,"title":"θ","titleX":89,"titleY":58,"titleAlign":"left","titleBaseline":"alphabetic","titleFontSize":15}},"y":{"field":"y","type":"quantitative","axis":{"orient":"left","labels":false,"ticks":false,"title":"z","titleX":-54,"titleY":88,"titleAngle":-90,"titleAlign":"center","titleBaseline":"middle","titleFontSize":15}}}}
]},
{"width":211,"height":189,"resolve":{"axis":{"x":"independent","y":"independent"}},"layer":[
 {"data":{"name":"c"},"transform":[{"filter":"datum.p==='e'"}],"mark":{"type":"line","interpolate":"catmull-rom","clip":true,"strokeWidth":2.3},"encoding":{"x":{"field":"x","type":"quantitative","scale":{"domain":[0.9,2],"nice":false,"zero":false},"axis":{"orient":"bottom","values":[1,1.5,2],"format":"~g","title":"λ","titleX":83,"titleY":53,"titleAlign":"center","titleBaseline":"alphabetic"}},"y":{"field":"y","type":"quantitative","scale":{"domain":[0.9,2],"nice":false,"zero":false},"axis":{"orient":"left","values":[1,1.5,2],"format":"~g","title":"λ","titleX":-56,"titleY":99,"titleAngle":-90,"titleAlign":"center","titleBaseline":"middle"}},"color":{"field":"l","type":"nominal","scale":{"domain":["1","1c","5","10","20","40","60","80","100"],"range":["#3a3196","#3a3196","#3b3a99","#3e449c","#4c58a8","#1ea6df","#4cb77f","#e2a633","#efe31c"]},"legend":null},"order":{"value":null}}},
 {"data":{"name":"el"},"transform":[{"filter":"datum.p==='e'"}],"mark":{"type":"line","interpolate":"cardinal-closed","color":"#3a2e98","strokeWidth":2.3},"encoding":{"x":{"field":"x","type":"quantitative","axis":null},"y":{"field":"y","type":"quantitative","axis":null},"order":{"value":null}}},
 {"data":{"name":"dot"},"transform":[{"filter":"datum.p==='e'"}],"mark":{"type":"circle","size":110,"color":"#e8202a","opacity":1},"encoding":{"x":{"field":"x","type":"quantitative","axis":{"orient":"top","values":[1,1.5,2],"labels":false,"title":null}},"y":{"field":"y","type":"quantitative","axis":{"orient":"right","values":[1,1.5,2],"labels":false,"title":null}}}},
 {"data":{"name":"dot"},"transform":[{"filter":"datum.p==='e'"}],"mark":{"type":"circle","opacity":0},"encoding":{"x":{"field":"x","type":"quantitative","axis":{"orient":"bottom","labels":false,"ticks":false,"title":"(e)","titleX":-26,"titleY":65,"titleAlign":"center","titleBaseline":"alphabetic","titleFont":"Liberation Serif","titleFontStyle":"italic","titleFontSize":21}},"y":{"field":"y","type":"quantitative","axis":{"orient":"left","labels":false,"ticks":false,"title":"24 mo","titleAngle":0,"titleX":-43,"titleY":199,"titleAlign":"right","titleBaseline":"middle","titleFontSize":26,"titleFontWeight":"bold"}}}},
 {"data":{"name":"dot"},"transform":[{"filter":"datum.p==='e'"}],"mark":{"type":"circle","opacity":0},"encoding":{"x":{"field":"x","type":"quantitative","axis":{"orient":"bottom","labels":false,"ticks":false,"title":"θ","titleX":89,"titleY":58,"titleAlign":"left","titleBaseline":"alphabetic","titleFontSize":15}},"y":{"field":"y","type":"quantitative","axis":{"orient":"left","labels":false,"ticks":false,"title":"z","titleX":-54,"titleY":88,"titleAngle":-90,"titleAlign":"center","titleBaseline":"middle","titleFontSize":15}}}}
]},
{"width":211,"height":189,"resolve":{"axis":{"x":"independent","y":"independent"}},"layer":[
 {"data":{"name":"c"},"transform":[{"filter":"datum.p==='f'"}],"mark":{"type":"line","interpolate":"catmull-rom","clip":true,"strokeWidth":2.3},"encoding":{"x":{"field":"x","type":"quantitative","scale":{"domain":[0.9,2],"nice":false,"zero":false},"axis":{"orient":"bottom","values":[1,1.5,2],"format":"~g","title":"λ","titleX":83,"titleY":53,"titleAlign":"center","titleBaseline":"alphabetic"}},"y":{"field":"y","type":"quantitative","scale":{"domain":[0.9,2],"nice":false,"zero":false},"axis":{"orient":"left","values":[1,1.5,2],"format":"~g","title":"λ","titleX":-56,"titleY":99,"titleAngle":-90,"titleAlign":"center","titleBaseline":"middle"}},"color":{"field":"l","type":"nominal","scale":{"domain":["1","1c","5","10","20","40","60","80","100"],"range":["#3a3196","#3a3196","#3b3a99","#3e449c","#4c58a8","#1ea6df","#4cb77f","#e2a633","#efe31c"]},"legend":null},"order":{"value":null}}},
 {"data":{"name":"el"},"transform":[{"filter":"datum.p==='f'"}],"mark":{"type":"line","interpolate":"cardinal-closed","color":"#3a2e98","strokeWidth":2.3},"encoding":{"x":{"field":"x","type":"quantitative","axis":null},"y":{"field":"y","type":"quantitative","axis":null},"order":{"value":null}}},
 {"data":{"name":"dot"},"transform":[{"filter":"datum.p==='f'"}],"mark":{"type":"circle","size":110,"color":"#e8202a","opacity":1},"encoding":{"x":{"field":"x","type":"quantitative","axis":{"orient":"top","values":[1,1.5,2],"labels":false,"title":null}},"y":{"field":"y","type":"quantitative","axis":{"orient":"right","values":[1,1.5,2],"labels":false,"title":null}}}},
 {"data":{"name":"dot"},"transform":[{"filter":"datum.p==='f'"}],"mark":{"type":"circle","opacity":0},"encoding":{"x":{"field":"x","type":"quantitative","axis":{"orient":"bottom","labels":false,"ticks":false,"title":"(f)","titleX":-35,"titleY":65,"titleAlign":"center","titleBaseline":"alphabetic","titleFont":"Liberation Serif","titleFontStyle":"italic","titleFontSize":21}},"y":{"field":"y","type":"quantitative","axis":{"orient":"left","labels":false,"ticks":false,"title":"2","titleAngle":0,"titleX":223,"titleY":226,"titleAlign":"center","titleBaseline":"middle","titleFontSize":15}}}},
 {"data":{"name":"dot"},"transform":[{"filter":"datum.p==='f'"}],"mark":{"type":"circle","opacity":0},"encoding":{"x":{"field":"x","type":"quantitative","axis":{"orient":"bottom","labels":false,"ticks":false,"title":"θ","titleX":89,"titleY":58,"titleAlign":"left","titleBaseline":"alphabetic","titleFontSize":15}},"y":{"field":"y","type":"quantitative","axis":{"orient":"left","labels":false,"ticks":false,"title":"z","titleX":-54,"titleY":88,"titleAngle":-90,"titleAlign":"center","titleBaseline":"middle","titleFontSize":15}}}}
]},
{"width":211,"height":189,"resolve":{"axis":{"x":"independent","y":"independent"}},"layer":[
 {"data":{"name":"c"},"transform":[{"filter":"datum.p==='g'"}],"mark":{"type":"line","interpolate":"catmull-rom","clip":true,"strokeWidth":2.3},"encoding":{"x":{"field":"x","type":"quantitative","scale":{"domain":[0.9,2],"nice":false,"zero":false},"axis":{"orient":"bottom","values":[1,1.5,2],"format":"~g","title":"λ","titleX":83,"titleY":53,"titleAlign":"center","titleBaseline":"alphabetic"}},"y":{"field":"y","type":"quantitative","scale":{"domain":[0.9,2],"nice":false,"zero":false},"axis":{"orient":"left","values":[1,1.5,2],"format":"~g","title":"λ","titleX":-56,"titleY":99,"titleAngle":-90,"titleAlign":"center","titleBaseline":"middle"}},"color":{"field":"l","type":"nominal","scale":{"domain":["1","1c","5","10","20","40","60","80","100"],"range":["#3a3196","#3a3196","#3b3a99","#3e449c","#4c58a8","#1ea6df","#4cb77f","#e2a633","#efe31c"]},"legend":null},"order":{"value":null}}},
 {"data":{"name":"el"},"transform":[{"filter":"datum.p==='g'"}],"mark":{"type":"line","interpolate":"cardinal-closed","color":"#3a2e98","strokeWidth":2.3},"encoding":{"x":{"field":"x","type":"quantitative","axis":null},"y":{"field":"y","type":"quantitative","axis":null},"order":{"value":null}}},
 {"data":{"name":"dot"},"transform":[{"filter":"datum.p==='g'"}],"mark":{"type":"circle","size":110,"color":"#e8202a","opacity":1},"encoding":{"x":{"field":"x","type":"quantitative","axis":{"orient":"top","values":[1,1.5,2],"labels":false,"title":null}},"y":{"field":"y","type":"quantitative","axis":{"orient":"right","values":[1,1.5,2],"labels":false,"title":null}}}},
 {"data":{"name":"dot"},"transform":[{"filter":"datum.p==='g'"}],"mark":{"type":"circle","opacity":0},"encoding":{"x":{"field":"x","type":"quantitative","axis":{"orient":"bottom","labels":false,"ticks":false,"title":"(g)","titleX":-39,"titleY":62,"titleAlign":"center","titleBaseline":"alphabetic","titleFont":"Liberation Serif","titleFontStyle":"italic","titleFontSize":21}},"y":{"field":"y","type":"quantitative","axis":null}}},
 {"data":{"name":"dot"},"transform":[{"filter":"datum.p==='g'"}],"mark":{"type":"circle","opacity":0},"encoding":{"x":{"field":"x","type":"quantitative","axis":{"orient":"bottom","labels":false,"ticks":false,"title":"θ","titleX":89,"titleY":58,"titleAlign":"left","titleBaseline":"alphabetic","titleFontSize":15}},"y":{"field":"y","type":"quantitative","axis":{"orient":"left","labels":false,"ticks":false,"title":"z","titleX":-54,"titleY":88,"titleAngle":-90,"titleAlign":"center","titleBaseline":"middle","titleFontSize":15}}}}
]},
{"width":211,"height":189,"resolve":{"axis":{"x":"independent","y":"independent"}},"layer":[
 {"data":{"name":"c"},"transform":[{"filter":"datum.p==='h'"}],"mark":{"type":"line","interpolate":"catmull-rom","clip":true,"strokeWidth":2.3},"encoding":{"x":{"field":"x","type":"quantitative","scale":{"domain":[0.9,2],"nice":false,"zero":false},"axis":{"orient":"bottom","values":[1,1.5,2],"format":"~g","title":"λ","titleX":83,"titleY":53,"titleAlign":"center","titleBaseline":"alphabetic"}},"y":{"field":"y","type":"quantitative","scale":{"domain":[0.9,2],"nice":false,"zero":false},"axis":{"orient":"left","values":[1,1.5,2],"format":"~g","title":"λ","titleX":-56,"titleY":99,"titleAngle":-90,"titleAlign":"center","titleBaseline":"middle"}},"color":{"field":"l","type":"nominal","scale":{"domain":["1","1c","5","10","20","40","60","80","100"],"range":["#3a3196","#3a3196","#3b3a99","#3e449c","#4c58a8","#1ea6df","#4cb77f","#e2a633","#efe31c"]},"legend":null},"order":{"value":null}}},
 {"data":{"name":"el"},"transform":[{"filter":"datum.p==='h'"}],"mark":{"type":"line","interpolate":"cardinal-closed","color":"#3a2e98","strokeWidth":2.3},"encoding":{"x":{"field":"x","type":"quantitative","axis":null},"y":{"field":"y","type":"quantitative","axis":null},"order":{"value":null}}},
 {"data":{"name":"dot"},"transform":[{"filter":"datum.p==='h'"}],"mark":{"type":"circle","size":110,"color":"#e8202a","opacity":1},"encoding":{"x":{"field":"x","type":"quantitative","axis":{"orient":"top","values":[1,1.5,2],"labels":false,"title":null}},"y":{"field":"y","type":"quantitative","axis":{"orient":"right","values":[1,1.5,2],"labels":false,"title":null}}}},
 {"data":{"name":"dot"},"transform":[{"filter":"datum.p==='h'"}],"mark":{"type":"circle","opacity":0},"encoding":{"x":{"field":"x","type":"quantitative","axis":{"orient":"bottom","labels":false,"ticks":false,"title":"(h)","titleX":-34,"titleY":60,"titleAlign":"center","titleBaseline":"alphabetic","titleFont":"Liberation Serif","titleFontStyle":"italic","titleFontSize":21}},"y":{"field":"y","type":"quantitative","axis":null}}},
 {"data":{"name":"dot"},"transform":[{"filter":"datum.p==='h'"}],"mark":{"type":"circle","opacity":0},"encoding":{"x":{"field":"x","type":"quantitative","axis":{"orient":"bottom","labels":false,"ticks":false,"title":"θ","titleX":89,"titleY":58,"titleAlign":"left","titleBaseline":"alphabetic","titleFontSize":15}},"y":{"field":"y","type":"quantitative","axis":{"orient":"left","labels":false,"ticks":false,"title":"z","titleX":-54,"titleY":88,"titleAngle":-90,"titleAlign":"center","titleBaseline":"middle","titleFontSize":15}}}}
]}
],
"columns":4,
"spacing":{"row":74,"column":89},
"bounds":"flush"
}
